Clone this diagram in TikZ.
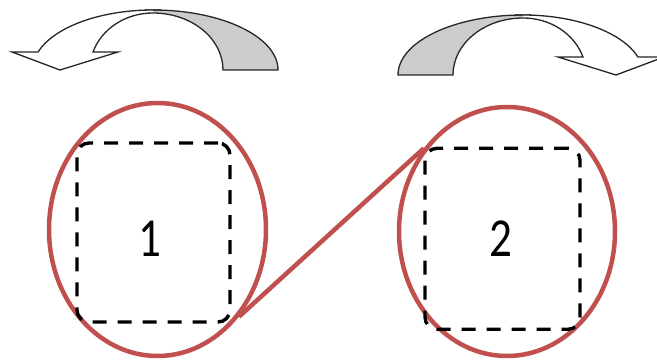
\documentclass[tikz,border=0pt]{standalone}
\usepackage{fontspec}
\setmainfont{Carlito}
\usetikzlibrary{shapes.geometric}
\definecolor{ringred}{HTML}{C0504D}
\definecolor{bandgray}{HTML}{CCCCCC}
\tikzset{
  ring/.style={ellipse, draw=ringred, line width=4.5pt, inner sep=0pt},
  dashbox/.style={rectangle, draw=black, line width=3.4pt, dash pattern=on 14pt off 11pt, rounded corners=12pt, inner sep=0pt},
  numlbl/.style={font=\fontsize{55}{60}\selectfont, inner sep=0pt},
  link/.style={draw=ringred, line width=4.5pt},
  bandline/.style={draw=black!85, line width=1.3pt, line join=miter},
  pics/curvedarrow/.style={code={
    % back band (grey)
    \fill[bandgray]
      (125,0) arc[start angle=0, end angle=90, x radius=125, y radius=60]
      -- (0,57) arc[start angle=90, end angle=0, x radius=70, y radius=57]
      -- cycle;
    \draw[bandline] (-8,60) -- (0,60) arc[start angle=90, end angle=0, x radius=125, y radius=60]
      -- (70,0) arc[start angle=0, end angle=90, x radius=70, y radius=57];
    % front band (white) with head
    \fill[white]
      (0,60) arc[start angle=90, end angle=162.54, x radius=120.5, y radius=60]
      -- (-141,18) -- (-93,0) -- (-35,18) -- (-60,18)
      arc[start angle=161.6, end angle=90, x radius=63.2, y radius=57]
      -- cycle;
    \draw[bandline] (8,60) -- (0,60) arc[start angle=90, end angle=162.54, x radius=120.5, y radius=60]
      -- (-141,18) -- (-93,0) -- (-35,18) -- (-60,18)
      arc[start angle=161.6, end angle=90, x radius=63.2, y radius=57];
  }}
}
\begin{document}
\begin{tikzpicture}[x=1pt, y=1pt]
  \useasboundingbox (0,0) rectangle (657,364);
  % curved arrows
  \pic at (153,294) {curvedarrow};
  \pic[xscale=-1] at (523,289) {curvedarrow};
  % rings and dashed boxes
  \node[ring, minimum width=217pt, minimum height=253pt] (e1) at (157.5,134.5) {};
  \node[ring, minimum width=216pt, minimum height=249pt] (e2) at (507,132.5) {};
  \node[dashbox, minimum width=153pt, minimum height=179pt] (b1) at (153.5,131.5) {};
  \node[dashbox, minimum width=155pt, minimum height=181pt] (b2) at (502.5,125.2) {};
  \node[numlbl] (t1) at (150,125) {\scalebox{0.82}[1]{1}};
  \node[numlbl] (t2) at (501,125) {\scalebox{0.82}[1]{2}};
  % connector
  \draw[link] (e1.-47.7) -- (e2.135.2);
\end{tikzpicture}
\end{document}
